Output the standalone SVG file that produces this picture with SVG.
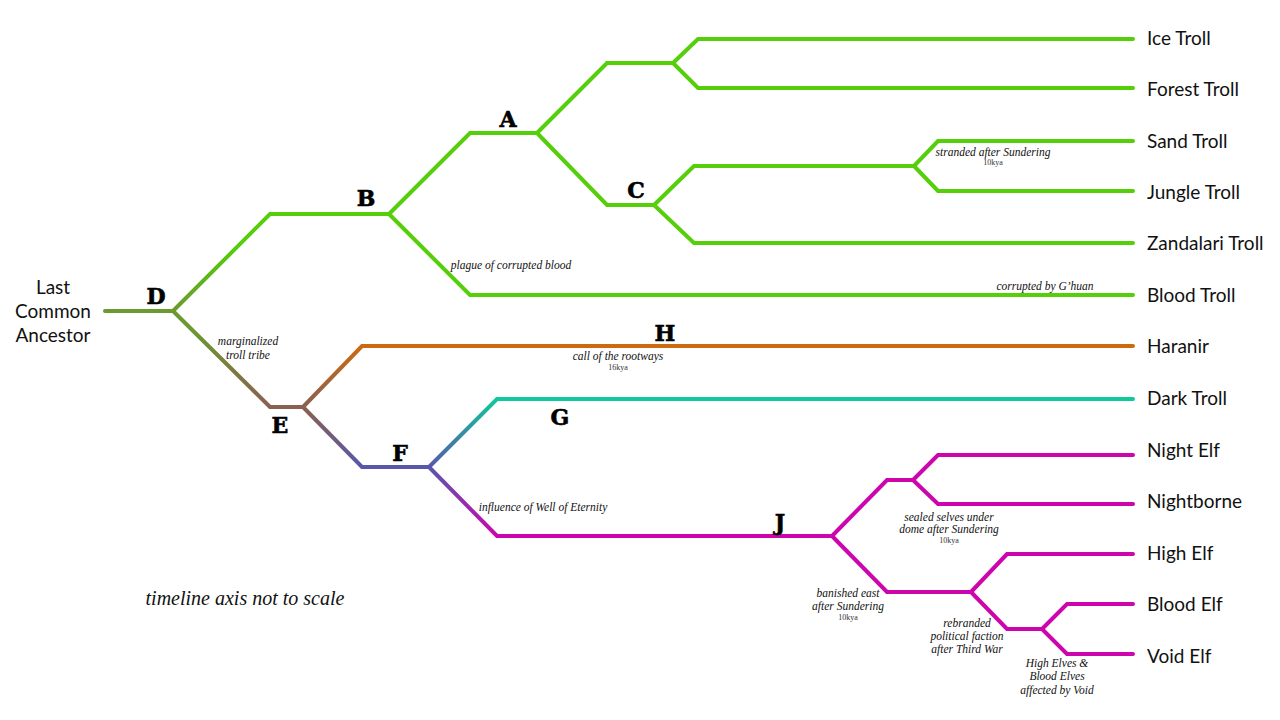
<svg xmlns="http://www.w3.org/2000/svg" width="1280" height="720" viewBox="0 0 1280 720">
<style>
.br{fill:none;stroke-width:4;stroke-linecap:round;stroke-linejoin:miter}
.g{stroke:#55cf0a}
.m{stroke:#cc05ad}
.leaf{font-family:"Lato","Open Sans",sans-serif;font-size:19px;fill:#111}
.node{font-family:"DejaVu Serif","Liberation Serif",serif;font-weight:900;font-size:22px;fill:#000;text-anchor:middle;stroke:#000;stroke-width:0.6}
.note{font-family:"Liberation Serif",serif;font-style:italic;font-size:11.5px;fill:#111;text-anchor:middle}
.kya{font-family:"Liberation Serif",serif;font-size:8px;fill:#333;text-anchor:middle}
</style>
<defs>
<linearGradient id="gDB" gradientUnits="userSpaceOnUse" x1="173" y1="311" x2="240" y2="244"><stop offset="0" stop-color="#6b9a30"/><stop offset="1" stop-color="#55cf0a"/></linearGradient>
<linearGradient id="gDE" gradientUnits="userSpaceOnUse" x1="190" y1="328" x2="270" y2="407"><stop offset="0" stop-color="#6b9a30"/><stop offset="1" stop-color="#8a6050"/></linearGradient>
<linearGradient id="gEH" gradientUnits="userSpaceOnUse" x1="303" y1="407" x2="362" y2="346"><stop offset="0" stop-color="#8a6050"/><stop offset="1" stop-color="#cc6a10"/></linearGradient>
<linearGradient id="gEF" gradientUnits="userSpaceOnUse" x1="303" y1="407" x2="362" y2="467"><stop offset="0" stop-color="#8a6050"/><stop offset="1" stop-color="#5858aa"/></linearGradient>
<linearGradient id="gFG" gradientUnits="userSpaceOnUse" x1="429" y1="467" x2="497" y2="399"><stop offset="0" stop-color="#5858aa"/><stop offset="1" stop-color="#10c89c"/></linearGradient>
<linearGradient id="gFJ" gradientUnits="userSpaceOnUse" x1="429" y1="467" x2="497" y2="536"><stop offset="0" stop-color="#5858aa"/><stop offset="1" stop-color="#cc05ad"/></linearGradient>
</defs>
<rect width="1280" height="720" fill="#fff"/>
<g id="connectors">
<path class="br" stroke="#6b9a30" d="M105,311 L173,311"/>
<path class="br" stroke="url(#gDB)" d="M173,311 L270,214 L389,214"/>
<path class="br g" d="M389,214 L470,133 L537,133"/>
<path class="br g" d="M537,133 L607,63 L673,63"/>
<path class="br g" d="M673,63 L698,39 L1133,39"/>
<path class="br g" d="M673,63 L698,88 L1133,88"/>
<path class="br g" d="M537,133 L607,205 L654,205"/>
<path class="br g" d="M654,205 L694,166 L914,166"/>
<path class="br g" d="M914,166 L938,141 L1133,141"/>
<path class="br g" d="M914,166 L938,191 L1133,191"/>
<path class="br g" d="M654,205 L694,243 L1133,243"/>
<path class="br g" d="M389,214 L470,295 L1133,295"/>
<path class="br" stroke="url(#gDE)" d="M173,311 L270,407 L303,407"/>
<path class="br" stroke="url(#gEH)" d="M303,407 L362,346 L1133,346"/>
<path class="br" stroke="url(#gEF)" d="M303,407 L362,467 L429,467"/>
<path class="br" stroke="url(#gFG)" d="M429,467 L497,399 L1133,399"/>
<path class="br" stroke="url(#gFJ)" d="M429,467 L497,536 L832,536"/>
<path class="br m" d="M832,536 L887,480 L913,480"/>
<path class="br m" d="M913,480 L938,455 L1133,455"/>
<path class="br m" d="M913,480 L938,504 L1133,504"/>
<path class="br m" d="M832,536 L887,592 L971,592"/>
<path class="br m" d="M971,592 L1007,554 L1133,554"/>
<path class="br m" d="M971,592 L1007,629 L1042,629"/>
<path class="br m" d="M1042,629 L1067,604 L1133,604"/>
<path class="br m" d="M1042,629 L1067,654 L1133,654"/>
</g>
<g id="root"><text class="leaf" text-anchor="middle" x="53" y="294">Last</text><text class="leaf" text-anchor="middle" x="53" y="318">Common</text><text class="leaf" text-anchor="middle" x="53" y="342">Ancestor</text></g>
<g id="node-D"><text class="node" x="156" y="304">D</text></g>
<g id="node-B"><text class="node" x="366" y="206">B</text></g>
<g id="node-A"><text class="node" x="508" y="127">A</text></g>
<g id="node-C"><text class="node" x="636" y="198">C</text></g>
<g id="node-E"><text class="node" x="280" y="433">E</text></g>
<g id="node-F"><text class="node" x="400" y="461">F</text></g>
<g id="node-G"><text class="node" x="560" y="425">G</text></g>
<g id="node-H"><text class="node" x="665" y="341">H</text></g>
<g id="node-J"><text class="node" x="780" y="530">J</text></g>
<g id="leaves">
<text class="leaf" x="1147" y="45">Ice Troll</text>
<text class="leaf" x="1147" y="96">Forest Troll</text>
<text class="leaf" x="1147" y="148">Sand Troll</text>
<text class="leaf" x="1147" y="199">Jungle Troll</text>
<text class="leaf" x="1147" y="250">Zandalari Troll</text>
<text class="leaf" x="1147" y="302">Blood Troll</text>
<text class="leaf" x="1147" y="353">Haranir</text>
<text class="leaf" x="1147" y="405">Dark Troll</text>
<text class="leaf" x="1147" y="457">Night Elf</text>
<text class="leaf" x="1147" y="508">Nightborne</text>
<text class="leaf" x="1147" y="560">High Elf</text>
<text class="leaf" x="1147" y="611">Blood Elf</text>
<text class="leaf" x="1147" y="663">Void Elf</text>
</g>
<g id="notes">
<text class="note" x="248" y="345">marginalized</text>
<text class="note" x="248" y="359">troll tribe</text>
<text class="note" x="511" y="269">plague of corrupted blood</text>
<text class="note" x="993" y="156">stranded after Sundering</text>
<text class="kya" x="993" y="165">10kya</text>
<text class="note" x="1045" y="290">corrupted by G’huan</text>
<text class="note" x="618" y="360">call of the rootways</text>
<text class="kya" x="618" y="370">16kya</text>
<text class="note" x="543" y="511">influence of Well of Eternity</text>
<text class="note" x="949" y="521">sealed selves under</text>
<text class="note" x="949" y="533">dome after Sundering</text>
<text class="kya" x="949" y="543">10kya</text>
<text class="note" x="848" y="597">banished east</text>
<text class="note" x="848" y="610">after Sundering</text>
<text class="kya" x="848" y="620">10kya</text>
<text class="note" x="967" y="627">rebranded</text>
<text class="note" x="967" y="640">political faction</text>
<text class="note" x="967" y="653">after Third War</text>
<text class="note" x="1057" y="667">High Elves &amp;</text>
<text class="note" x="1057" y="680">Blood Elves</text>
<text class="note" x="1057" y="694">affected by Void</text>
<text x="245" y="605" text-anchor="middle" font-family="Liberation Serif, serif" font-style="italic" font-size="20" fill="#111">timeline axis not to scale</text>
</g>
</svg>
